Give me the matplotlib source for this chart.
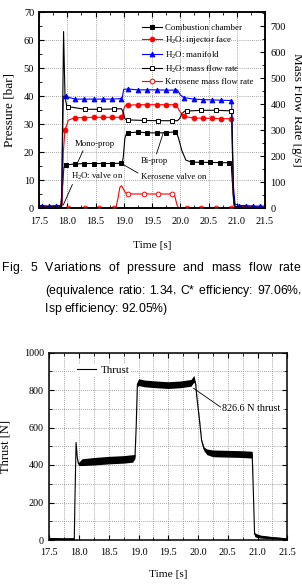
import numpy as np
import matplotlib
matplotlib.use('Agg')
import matplotlib.pyplot as plt
from matplotlib.ticker import MultipleLocator, FormatStrFormatter

plt.rcParams['font.family'] = 'Liberation Serif'
plt.rcParams['mathtext.fontset'] = 'custom'
plt.rcParams['mathtext.rm'] = 'Liberation Serif'
plt.rcParams['mathtext.it'] = 'Liberation Serif:italic'

# ---- Fig. 5 data (time [s]) ----
# combustion chamber pressure [bar]: ramp points + marker points
cc_t = [17.50, 17.88, 17.91, 17.94, 18.97, 18.99, 19.02, 19.05, 19.93, 19.97, 20.03, 20.10, 20.90, 20.92, 20.95, 21.00, 21.50]
cc_v = [0.4, 0.5, 6.0, 14.5, 16.1, 18.0, 25.0, 26.8, 27.3, 25.0, 20.5, 17.2, 16.3, 10.0, 1.0, 0.5, 0.4]
cc_mt = [17.97, 18.13, 18.30, 18.47, 18.63, 18.80, 18.96, 19.08, 19.25, 19.41, 19.58, 19.74, 19.91, 20.20, 20.36, 20.53, 20.70, 20.86]
cc_mv = [15.5, 15.8, 16.0, 16.0, 16.0, 16.0, 16.1, 27.0, 27.2, 27.0, 26.9, 27.0, 27.3, 16.5, 16.4, 16.4, 16.3, 16.3]

# H2O injector face pressure [bar]
inj_t = [17.50, 17.91, 17.93, 18.02, 18.97, 19.00, 19.03, 19.93, 19.98, 20.03, 20.91, 20.94, 20.97, 21.50]
inj_v = [0.5, 1.0, 20.0, 31.5, 32.6, 35.5, 36.8, 37.0, 35.0, 33.5, 32.0, 5.0, 0.5, 0.5]
inj_mt = [17.96, 18.13, 18.30, 18.47, 18.63, 18.80, 18.96, 19.08, 19.25, 19.41, 19.58, 19.74, 19.91, 20.07, 20.24, 20.40, 20.57, 20.73, 20.90]
inj_mv = [28.0, 32.3, 32.4, 32.5, 32.5, 32.5, 32.5, 36.8, 37.0, 37.0, 37.0, 37.0, 37.0, 32.8, 32.2, 32.2, 32.1, 32.0, 32.0]

# H2O manifold pressure [bar]
man_t = [17.50, 17.90, 17.93, 18.97, 19.00, 19.95, 20.00, 20.91, 20.94, 20.97, 21.50]
man_v = [1.0, 1.0, 40.0, 39.2, 42.5, 42.3, 40.5, 38.5, 8.0, 1.5, 0.8]
man_mt = [17.55, 17.68, 17.80, 17.97, 18.13, 18.30, 18.47, 18.63, 18.80, 18.96, 19.08, 19.25, 19.41, 19.58, 19.74, 19.91,
          20.07, 20.24, 20.40, 20.57, 20.73, 20.90, 21.04, 21.16, 21.29, 21.41]
man_mv = [1.0, 0.8, 1.0, 40.0, 39.0, 39.0, 39.0, 39.0, 39.0, 39.2, 42.6, 42.3, 42.3, 42.3, 42.2, 42.2,
          39.5, 39.0, 38.8, 38.7, 38.6, 38.5, 1.0, 1.0, 0.8, 0.8]

# H2O mass flow rate [g/s]
wat_t = [17.50, 17.90, 17.92, 17.935, 17.96, 17.99, 18.96, 18.99, 19.02, 19.05, 19.95, 19.99, 20.03, 20.08, 20.91, 20.94, 20.97, 21.50]
wat_v = [5, 5, 400, 680, 430, 395, 383, 370, 345, 340, 337, 345, 365, 374, 375, 50, 5, 3]
wat_mt = [18.02, 18.31, 18.57, 18.83, 19.08, 19.35, 19.61, 19.86, 20.12, 20.37, 20.63, 20.89]
wat_mv = [391, 381, 381, 382, 340, 338, 337, 337, 374, 377, 377, 375]

# kerosene mass flow rate [g/s]
ker_t = [17.50, 18.86, 18.90, 18.93, 18.96, 18.99, 19.03, 19.90, 19.94, 19.97, 21.50]
ker_v = [1, 1, 40, 80, 87, 75, 60, 50, 15, 1, 1]
ker_mt = [18.02, 18.31, 18.57, 18.83, 19.08, 19.35, 19.61, 19.86, 20.12, 20.37, 20.63, 20.89]
ker_mv = [1, 1, 1, 1, 55, 55, 55, 55, 1, 1, 1, 1]

time_ticks = [17.5, 18.0, 18.5, 19.0, 19.5, 20.0, 20.5, 21.0, 21.5]

# ---- Fig. 6 thrust [N]: centre of the noisy trace and half width of its band ----
thr_t = [17.50, 17.70, 17.92, 17.93, 17.95, 17.97, 17.99, 18.05, 18.25, 18.50, 18.75, 18.90, 18.94, 18.96, 18.98,
         19.00, 19.10, 19.30, 19.50, 19.70, 19.88, 19.93, 19.96, 19.98, 20.02, 20.06, 20.10, 20.15, 20.25, 20.50,
         20.75, 20.91, 20.93, 20.95, 20.97, 21.05, 21.25, 21.50]
thr_mid = [8, 6, 6, 200, 520, 440, 405, 415, 420, 426, 430, 435, 445, 600, 830,
           842, 835, 830, 826, 830, 838, 860, 830, 760, 650, 530, 485, 470, 462, 460,
           458, 455, 250, 30, 25, 18, 12, 6]
thr_half = [6, 5, 5, 0, 0, 0, 8, 18, 20, 20, 20, 20, 10, 0, 15,
            18, 18, 18, 18, 18, 18, 18, 5, 5, 5, 5, 10, 15, 18, 18,
            18, 18, 0, 10, 10, 8, 6, 5]

caption = ['Fig. 5 Variations of pressure and mass flow rate',
           '(equivalence ratio: 1.34, C* efficiency: 97.06%,',
           'Isp efficiency: 92.05%)']

W, H = 302, 588
fig = plt.figure(figsize=(W / 100, H / 100), dpi=100)
fig.patch.set_facecolor('white')


def px_axes(l, t, r, b):
    return fig.add_axes([l / W, 1 - b / H, (r - l) / W, (b - t) / H])


def merged(te, ve, tm, vm):
    t = np.concatenate([te, tm])
    v = np.concatenate([ve, vm])
    flag = np.concatenate([np.zeros(len(te)), np.ones(len(tm))]).astype(bool)
    o = np.argsort(t, kind='stable')
    return t[o], v[o], list(flag[o])


grid_kw = dict(ls=(0, (1, 1.5)), color='#888888', lw=0.6)

# ================= top chart =================
ax = px_axes(39, 12.3, 265, 208.3)
ax2 = ax.twinx()

series = [
    (ax, cc_t, cc_v, cc_mt, cc_mv, 'black', 's', 'black', 'Combustion chamber'),
    (ax, inj_t, inj_v, inj_mt, inj_mv, 'red', 'o', 'red', 'H$_2$O: injector face'),
    (ax, man_t, man_v, man_mt, man_mv, 'blue', '^', 'blue', 'H$_2$O: manifold'),
    (ax2, wat_t, wat_v, wat_mt, wat_mv, 'black', 's', 'white', 'H$_2$O: mass flow rate'),
    (ax2, ker_t, ker_v, ker_mt, ker_mv, 'red', 'o', 'white', 'Kerosene mass flow rate'),
]
handles = []
for a, te, ve, tm, vm, c, m, fc, lab in series:
    t, v, mk = merged(te, ve, tm, vm)
    h, = a.plot(t, v, color=c, lw=0.8, marker=m, markevery=mk, markersize=3.4,
                markerfacecolor=fc, markeredgecolor=c, markeredgewidth=0.7, label=lab)
    handles.append(h)

ax.set_xlim(17.5, 21.5)
ax.set_ylim(0, 70)
ax2.set_ylim(0, 754)
ax.set_xticks(time_ticks)
ax.xaxis.set_major_formatter(FormatStrFormatter('%.1f'))
ax.xaxis.set_minor_locator(MultipleLocator(0.25))
ax.yaxis.set_major_locator(MultipleLocator(10))
ax.yaxis.set_minor_locator(MultipleLocator(5))
ax2.set_yticks(np.arange(0, 701, 100))
ax2.yaxis.set_minor_locator(MultipleLocator(50))
ax.grid(True, which='major', **grid_kw)
ax.set_axisbelow(True)
ax.tick_params(which='both', direction='in', top=True, labelsize=7.5)
ax.tick_params(axis='x', pad=6)
ax.tick_params(which='major', length=3.5)
ax.tick_params(which='minor', length=2)
ax2.tick_params(which='both', direction='in', labelsize=7.5, pad=4)
ax2.tick_params(which='major', length=3.5)
ax2.tick_params(which='minor', length=2)
for a in (ax, ax2):
    for s in a.spines.values():
        s.set_linewidth(1.1)

ax.set_xlabel('Time [s]', fontsize=8.2, labelpad=11)
ax.set_ylabel('Pressure [bar]', fontsize=9.5, labelpad=6)
ax2.set_ylabel('Mass Flow Rate [g/s]', fontsize=9.5, rotation=270, labelpad=12)

ax2.legend(handles=handles, loc='upper right', bbox_to_anchor=(0.975, 0.975), frameon=False,
           fontsize=6.4, handlelength=2.3, handletextpad=0.3, labelspacing=0.32, borderpad=0.2)

ann_kw = dict(fontsize=6.3, ha='center', va='center')
line_kw = dict(arrowstyle='-', lw=0.6, color='black', shrinkA=0, shrinkB=0)
ax.annotate('Mono-prop', xy=(18.18, 16.2), xytext=(18.48, 23.0),
            arrowprops=dict(relpos=(0.25, 0.0), **line_kw), **ann_kw)
ax.annotate('H$_2$O: valve on', xy=(17.93, 1.2), xytext=(18.53, 11.5),
            arrowprops=dict(relpos=(0.05, 0.0), **line_kw), **ann_kw)
ax.annotate('Bi-prop', xy=(19.70, 27.0), xytext=(19.54, 17.0),
            arrowprops=dict(relpos=(0.55, 1.0), **line_kw), **ann_kw)
ax.annotate('Kerosene valve on', xy=(18.96, 16.0), xytext=(19.88, 11.3),
            arrowprops=dict(relpos=(0.0, 0.75), **line_kw), **ann_kw)

# ================= caption (letter-spaced to the printed line widths) =================
renderer = fig.canvas.get_renderer()
CAP_FS = 8.8


def spaced_line(line, x0, x1, y, word_extra=0.0):
    chars = list(line)
    texts, widths = [], []
    space_w = 0.278 * CAP_FS * 100 / 72
    for ch in chars:
        if ch == ' ':
            texts.append(None)
            widths.append(space_w)
            continue
        t = fig.text(0, 1 - y / H, ch, family='Liberation Sans', fontsize=CAP_FS, va='center', ha='left')
        texts.append(t)
        widths.append(t.get_window_extent(renderer).width)
    n_sp = chars.count(' ')
    last = widths[-1]
    free = (x1 - x0) - sum(widths) - n_sp * word_extra
    track = free / (len(chars) - 1)
    x = x0
    for ch, t, w in zip(chars, texts, widths):
        if t is not None:
            t.set_x(x / W)
        x += w + track + (word_extra if ch == ' ' else 0)


spaced_line(caption[0], 2, 300, 268.3, word_extra=4.0)
spaced_line(caption[1], 45, 301, 290.7, word_extra=1.5)
spaced_line(caption[2], 45, 167, 309.3)

# ================= bottom chart =================
bx = px_axes(49.3, 352.5, 287.3, 540)
lo = np.array(thr_mid) - np.array(thr_half)
hi = np.array(thr_mid) + np.array(thr_half)
bx.fill_between(thr_t, lo, hi, color='black', lw=0)
bx.plot(thr_t, thr_mid, color='black', lw=0.8, label='Thrust')
bx.set_xlim(17.5, 21.5)
bx.set_ylim(0, 1000)
bx.set_xticks(time_ticks)
bx.xaxis.set_major_formatter(FormatStrFormatter('%.1f'))
bx.xaxis.set_minor_locator(MultipleLocator(0.25))
bx.yaxis.set_major_locator(MultipleLocator(200))
bx.yaxis.set_minor_locator(MultipleLocator(100))
bx.grid(True, which='both', **grid_kw)
bx.set_axisbelow(True)
bx.tick_params(which='both', direction='in', top=True, right=True, labelsize=7.3, pad=4)
bx.tick_params(axis='x', pad=6)
bx.tick_params(which='major', length=3.5)
bx.tick_params(which='minor', length=2)
for s in bx.spines.values():
    s.set_linewidth(1.1)
bx.set_xlabel('Time [s]', fontsize=8.2, labelpad=9)
bx.set_ylabel('Thrust [N]', fontsize=9, labelpad=9)
leg = bx.legend(loc='center left', bbox_to_anchor=(0.085, 0.907), fontsize=7.8, handlelength=1.8,
                handletextpad=0.4, borderpad=0.15, framealpha=1, edgecolor='none', fancybox=False)
bx.annotate('826.6 N thrust', xy=(19.92, 810), xytext=(20.41, 702), fontsize=7.3, ha='left', va='center',
            bbox=dict(facecolor='white', edgecolor='none', pad=1),
            arrowprops=dict(relpos=(0.0, 0.5), **line_kw))

fig.savefig('out.png', dpi=100, facecolor='white')
